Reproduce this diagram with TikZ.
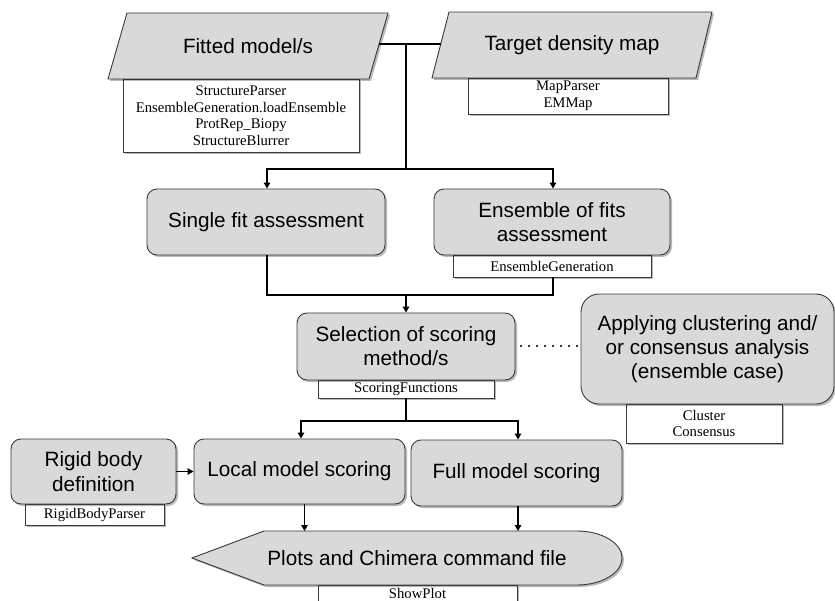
\documentclass[tikz,border=0pt]{standalone}
\usepackage{fontspec}
\setmainfont{Liberation Serif}
\setsansfont{Liberation Sans}
\usetikzlibrary{arrows.meta,shadows}
\definecolor{boxgray}{HTML}{D9D9D9}
\definecolor{edgecol}{HTML}{3A3A3A}
\tikzset{
  shadowed/.style={drop shadow={shadow xshift=2pt,shadow yshift=-2pt,fill=black,opacity=0.28}},
  mainbox/.style={shadowed,draw=edgecol,line width=0.9pt,fill=boxgray,rounded corners=10pt,
    inner sep=0pt,align=center,font=\sffamily\fontsize{20.7}{24.2}\selectfont},
  subbox/.style={shadowed,draw=edgecol,line width=0.9pt,fill=white,inner sep=0pt,align=center,
    font=\rmfamily\fontsize{14.7}{16.5}\selectfont},
  paral/.style={shadowed,draw=edgecol,line width=0.9pt,fill=boxgray},
  maintext/.style={inner sep=0pt,align=center,font=\sffamily\fontsize{20.7}{24.2}\selectfont},
  subtext/.style={inner sep=0pt,align=center,font=\rmfamily\fontsize{14.7}{16.5}\selectfont},
  conn/.style={line width=1.8pt,black},
  arr/.style={conn,-{Triangle[width=6.5pt,length=6pt]}},
  dotline/.style={line width=2pt,edgecol,dash pattern=on 2pt off 6pt},
}
\begin{document}
\begin{tikzpicture}[x=1pt,y=-1pt]
\useasboundingbox (0,0) rectangle (835,601);

% ---- Fitted model/s ----
\node[subbox,minimum width=236pt,minimum height=73pt] (fitsub) at (241,115.5)
  {StructureParser\\EnsembleGeneration.loadEnsemble\\ProtRep\_Biopy\\StructureBlurrer};
\path[paral] (127,13) -- (388,13) -- (369,79) -- (108,79) -- cycle;
\node[maintext] (fitted) at (248,46) {Fitted model/s};

% ---- Target density map ----
\node[subbox,minimum width=200pt,minimum height=36pt] (tgtsub) at (568,96) {MapParser\\EMMap};
\path[paral] (449,12) -- (712,12) -- (696,78) -- (432,78) -- cycle;
\node[maintext] (target) at (572,45) {Target density map};

% ---- assessments ----
\node[mainbox,minimum width=238pt,minimum height=66pt] (single) at (266,222) {Single fit assessment};
\node[subbox,minimum width=198pt,minimum height=22pt] (enssub) at (552,266) {EnsembleGeneration};
\node[mainbox,minimum width=236pt,minimum height=66pt] (ens) at (552,222) {Ensemble of fits\\assessment};

% ---- selection ----
\node[subbox,minimum width=176pt,minimum height=18pt] (selsub) at (406,389) {ScoringFunctions};
\node[mainbox,minimum width=218pt,minimum height=67pt] (sel) at (406,346.5) {Selection of scoring\\method/s};

% ---- clustering ----
\node[subbox,minimum width=156pt,minimum height=39pt] (clsub) at (704,423.5) {Cluster\\Consensus};
\node[mainbox,rounded corners=18pt,minimum width=253pt,minimum height=110pt] (clust) at (707.5,349)
  {Applying clustering and/\\or consensus analysis\\(ensemble case)};

% ---- scoring ----
\node[subbox,minimum width=139pt,minimum height=21pt] (rigsub) at (94.5,514.5) {RigidBodyParser};
\node[mainbox,minimum width=165pt,minimum height=65pt] (rigid) at (93.5,471.5) {Rigid body\\definition};
\node[mainbox,minimum width=211pt,minimum height=65pt] (local) at (299.5,471.5) {Local model scoring};
\node[mainbox,minimum width=211pt,minimum height=66pt] (full) at (516.5,473) {Full model scoring};

% ---- plots ----
\node[subbox,minimum width=199pt,minimum height=34pt] (plotsub) at (417.5,602) {};
\node[subtext] (showplot) at (417.5,593) {ShowPlot};
\path[paral] (192,558) -- (264,531) -- (577,531)
  .. controls (601.9,531) and (622,543.1) .. (622,558)
  .. controls (622,572.9) and (601.9,585) .. (577,585)
  -- (264,585) -- cycle;
\node[maintext] (plots) at (417,558) {Plots and Chimera command file};
\coordinate (plotstop) at (417,531);

% ---- connectors ----
\coordinate (fitR) at (379,44);
\coordinate (tgtL) at (441,44);
\coordinate (j1) at (406,44);
\coordinate (j2) at (406,169);
\coordinate (j3) at (406,295);
\coordinate (j4) at (406,421);

\draw[conn] (fitR) -- (tgtL);
\draw[conn] (j1) -- (j2);
\draw[arr] (j2) -| ([xshift=1pt]single.north);
\draw[arr] (j2) -| ([xshift=1pt]ens.north);
\draw[conn] ([xshift=1pt]single.south) |- (j3) -| ([xshift=1pt]enssub.south);
\draw[arr] (j3) -- (sel.north);
\draw[dotline] ([xshift=5pt]sel.east) -- ([xshift=-2pt]sel.east -| clust.west);
\draw[conn] (selsub.south) -- (j4);
\draw[arr] (j4) -| ([xshift=1.5pt]local.north);
\draw[arr] (j4) -| ([xshift=1.5pt]full.north);
\draw[arr] (rigid.east) -- (local.west);
\draw[arr] ([xshift=5pt]local.south) -- ([xshift=5pt]local.south |- plotstop);
\draw[arr] ([xshift=1.5pt]full.south) -- ([xshift=1.5pt]full.south |- plotstop);
\end{tikzpicture}
\end{document}
